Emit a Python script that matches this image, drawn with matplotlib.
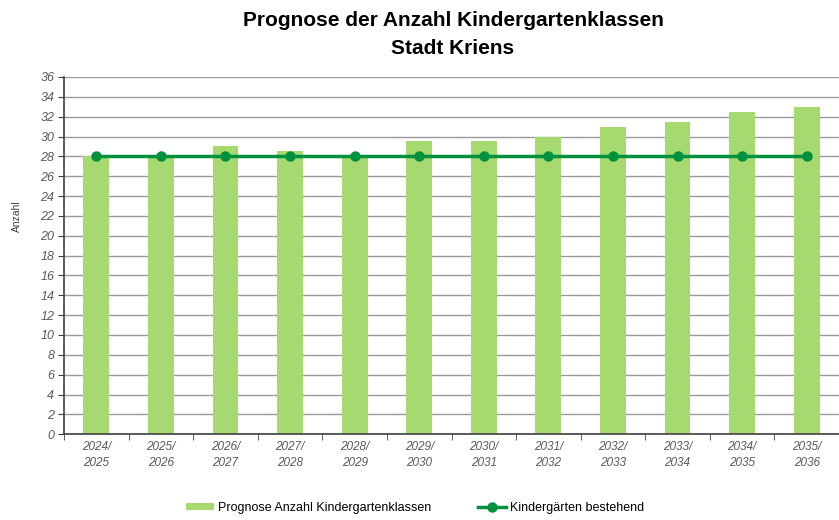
import matplotlib.pyplot as plt
import numpy as np

plt.rcParams['font.family'] = ['Liberation Sans', 'DejaVu Sans']

jahre = ['2024/\n2025', '2025/\n2026', '2026/\n2027', '2027/\n2028', '2028/\n2029', '2029/\n2030',
         '2030/\n2031', '2031/\n2032', '2032/\n2033', '2033/\n2034', '2034/\n2035', '2035/\n2036']
prognose = [28, 28, 29, 28.5, 28, 29.5, 29.5, 30, 31, 31.5, 32.5, 33]
bestehend = [28] * 12

bar_col = '#a6d96f'
line_col = '#00913f'
grey = '#595959'

fig = plt.figure(figsize=(8.39, 5.2), dpi=100)
ax = fig.add_axes([0.0763, 0.165, 0.9237, 0.687])

x = np.arange(len(jahre))
b = ax.bar(x, prognose, width=0.4, color=bar_col, zorder=2, label='Prognose Anzahl Kindergartenklassen')
l, = ax.plot(x, bestehend, color=line_col, lw=2.5, marker='o', ms=6.5, zorder=3, label='Kindergärten bestehend')

ax.set_xlim(-0.5, len(jahre) - 0.5)
ax.set_ylim(0, 36)
ax.set_yticks(range(0, 37, 2))
ax.set_yticklabels([str(v) for v in range(0, 37, 2)], fontsize=9, style='italic', color=grey)
ax.set_xticks(x)
ax.set_xticklabels(jahre, fontsize=8.5, style='italic', color=grey, linespacing=1.45)
ax.set_xticks(np.arange(-0.5, len(jahre)), minor=True)
ax.tick_params(axis='x', which='major', length=0, pad=5)
ax.tick_params(axis='x', which='minor', length=4, color='#404040', direction='out')
ax.tick_params(axis='y', length=4, color='#404040', direction='out', pad=3)
ax.grid(axis='y', color='#999999', lw=1, zorder=0)

for s in ['top', 'right']:
    ax.spines[s].set_visible(False)
for s in ['left', 'bottom']:
    ax.spines[s].set_color('#404040')
    ax.spines[s].set_linewidth(1.2)

ax.set_ylabel('Anzahl', fontsize=7.5, color='#404040')
ax.yaxis.set_label_coords(-0.054, 0.61)

fig.suptitle('Prognose der Anzahl Kindergartenklassen\nStadt Kriens', fontsize=15,
             fontweight='bold', x=0.54, y=0.978, linespacing=1.55)

fig.legend(handles=[b, l], loc='center', bbox_to_anchor=(0.495, 0.023), ncol=2, frameon=False,
           fontsize=9, columnspacing=3.75, handlelength=2.25, handletextpad=0.3, handleheight=0.55)

fig.savefig('out.png', dpi=100)
